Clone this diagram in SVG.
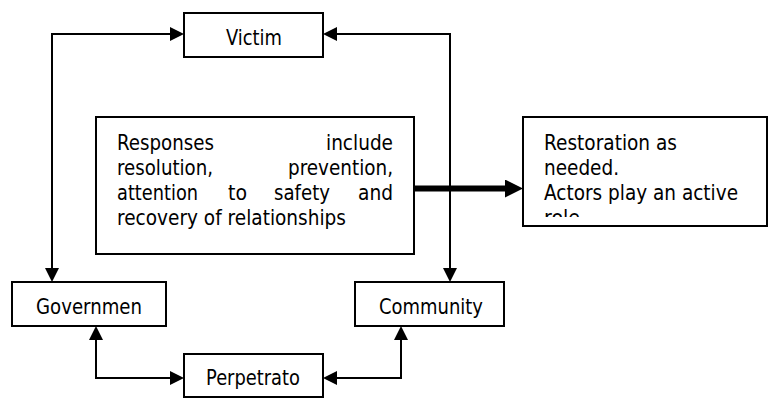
<svg xmlns="http://www.w3.org/2000/svg" width="769" height="401" viewBox="0 0 769 401">
<style>
.box{fill:#fff;stroke:#000;stroke-width:2}
.t{font-family:"DejaVu Sans","Liberation Sans",sans-serif;font-size:22px;fill:#000}
.c{fill:none;stroke:#000;stroke-width:2}
.thick{fill:none;stroke:#000;stroke-width:6}
</style>
<defs>
<marker id="ah" markerUnits="userSpaceOnUse" markerWidth="14" markerHeight="14" refX="6" refY="7" orient="auto-start-reverse">
<path d="M0,0 L14,7 L0,14 z" fill="#000"/>
</marker>
<marker id="ahBig" markerUnits="userSpaceOnUse" markerWidth="18" markerHeight="18" refX="4" refY="9" orient="auto">
<path d="M0,0 L18,9 L0,18 z" fill="#000"/>
</marker>
<clipPath id="clipR"><rect x="524" y="118" width="243" height="99"/></clipPath>
</defs>
<g id="connectors">
<path class="c" d="M176,34 H52 V274" marker-start="url(#ah)" marker-end="url(#ah)"/>
<path class="c" d="M331,34 H450 V274" marker-start="url(#ah)" marker-end="url(#ah)"/>
<path class="c" d="M96,334 V378 H176" marker-start="url(#ah)" marker-end="url(#ah)"/>
<path class="c" d="M331,378 H401 V334" marker-start="url(#ah)" marker-end="url(#ah)"/>
</g>
<g id="victim">
<rect class="box" x="184" y="13" width="139" height="44"/>
<text class="t" x="226" y="45" textLength="56" lengthAdjust="spacingAndGlyphs">Victim</text>
</g>
<g id="responses">
<rect class="box" x="96" y="117" width="318" height="137"/>
<text class="t">
<tspan x="117" y="150" textLength="97" lengthAdjust="spacingAndGlyphs">Responses</tspan>
<tspan x="326" y="150" textLength="67" lengthAdjust="spacingAndGlyphs">include</tspan>
<tspan x="117" y="175" textLength="96" lengthAdjust="spacingAndGlyphs">resolution,</tspan>
<tspan x="288" y="175" textLength="105" lengthAdjust="spacingAndGlyphs">prevention,</tspan>
<tspan x="117" y="200" textLength="81" lengthAdjust="spacingAndGlyphs">attention</tspan>
<tspan x="228" y="200" textLength="19" lengthAdjust="spacingAndGlyphs">to</tspan>
<tspan x="274" y="200" textLength="56" lengthAdjust="spacingAndGlyphs">safety</tspan>
<tspan x="358" y="200" textLength="35" lengthAdjust="spacingAndGlyphs">and</tspan>
<tspan x="117" y="225" textLength="229" lengthAdjust="spacingAndGlyphs">recovery of relationships</tspan>
</text>
</g>
<g id="restoration">
<rect class="box" x="523" y="117" width="244" height="109"/>
<text class="t" clip-path="url(#clipR)">
<tspan x="544" y="150" textLength="133" lengthAdjust="spacingAndGlyphs">Restoration as</tspan>
<tspan x="544" y="175" textLength="75" lengthAdjust="spacingAndGlyphs">needed.</tspan>
<tspan x="544" y="200" textLength="194" lengthAdjust="spacingAndGlyphs">Actors play an active</tspan>
<tspan x="544" y="225" textLength="36" lengthAdjust="spacingAndGlyphs">role</tspan>
</text>
</g>
<g id="main-arrow">
<path class="thick" d="M414,188.5 H509" marker-end="url(#ahBig)"/>
</g>
<g id="government">
<rect class="box" x="12" y="282" width="154" height="44"/>
<text class="t" x="36" y="314" textLength="106" lengthAdjust="spacingAndGlyphs">Governmen</text>
</g>
<g id="community">
<rect class="box" x="355" y="282" width="149" height="44"/>
<text class="t" x="379" y="314" textLength="104" lengthAdjust="spacingAndGlyphs">Community</text>
</g>
<g id="perpetrator">
<rect class="box" x="184" y="354" width="139" height="43"/>
<text class="t" x="206" y="385" textLength="94" lengthAdjust="spacingAndGlyphs">Perpetrato</text>
</g>
</svg>
